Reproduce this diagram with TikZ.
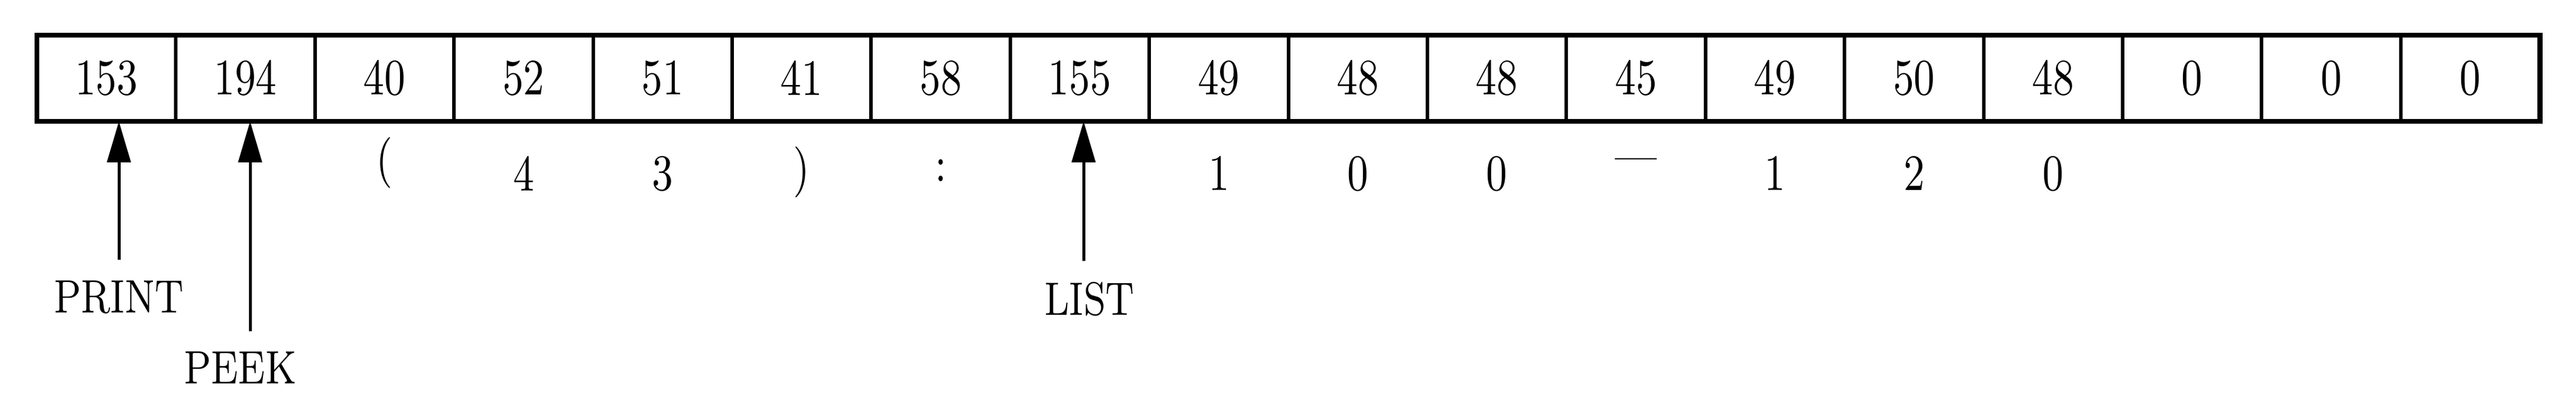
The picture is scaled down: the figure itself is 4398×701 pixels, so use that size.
\documentclass[tikz,border=0pt]{standalone}
\usetikzlibrary{arrows.meta}
\newcommand{\nar}[1]{\scalebox{0.8}[1]{#1}}
\begin{document}
\begin{tikzpicture}[x=0.1pt,y=-0.1pt,
  cell/.style={draw, line width=0.6pt, minimum width=23.74pt, minimum height=14.7pt,
    inner sep=0pt, outer sep=0pt, font=\fontsize{8.7}{10}\selectfont},
  chr/.style={inner sep=0pt, font=\fontsize{8.7}{10}\selectfont},
  lbl/.style={inner sep=0pt, font=\fontsize{8}{10}\selectfont},
  arr/.style={line width=0.5pt, -{Triangle[length=7pt,width=4pt]}}]
\useasboundingbox (0,0) rectangle (4398,701);
\foreach \v [count=\i from 0] in {153,194,40,52,51,41,58,155,49,48,48,45,49,50,48,0,0,0}
  {\node[cell] (c\i) at ({63+(\i+0.5)*237.4},133.5) {\nar{\v}};}
\draw[line width=0.85pt] (c0.north west) rectangle (c17.south east);
% characters below the cells
\path (c2)  ++(0,144.5) node[chr] (b2)  {\nar{(}};
\path (c3)  ++(0,162.5) node[chr] (b3)  {\nar{4}};
\path (c4)  ++(0,162.5) node[chr] (b4)  {\nar{3}};
\path (c5)  ++(0,160.5) node[chr] (b5)  {\nar{)}};
\path (c6)  ++(0,157.5) node[chr] (b6)  {\nar{:}};
\path (c8)  ++(0,162.5) node[chr] (b8)  {\nar{1}};
\path (c9)  ++(0,162.5) node[chr] (b9)  {\nar{0}};
\path (c10) ++(0,162.5) node[chr] (b10) {\nar{0}};
\path (c11) ++(0,148.5) node[chr] (b11) {\nar{---}};
\path (c12) ++(0,162.5) node[chr] (b12) {\nar{1}};
\path (c13) ++(0,162.5) node[chr] (b13) {\nar{2}};
\path (c14) ++(0,162.5) node[chr] (b14) {\nar{0}};
% labels and arrows
\node[lbl] (print) at (203,507) {\nar{PRINT}};
\node[lbl] (peek) at (410,627) {\nar{PEEK}};
\node[lbl] (list) at (1860,510) {\nar{LIST}};
\coordinate (printtail) at (203,443);
\coordinate (peektail) at (427,565);
\coordinate (listtail) at (1850,445);
\draw[arr] (printtail) -- (printtail |- c0.south);
\draw[arr] (peektail) -- (peektail |- c1.south);
\draw[arr] (listtail) -- (listtail |- c7.south);
\end{tikzpicture}
\end{document}
